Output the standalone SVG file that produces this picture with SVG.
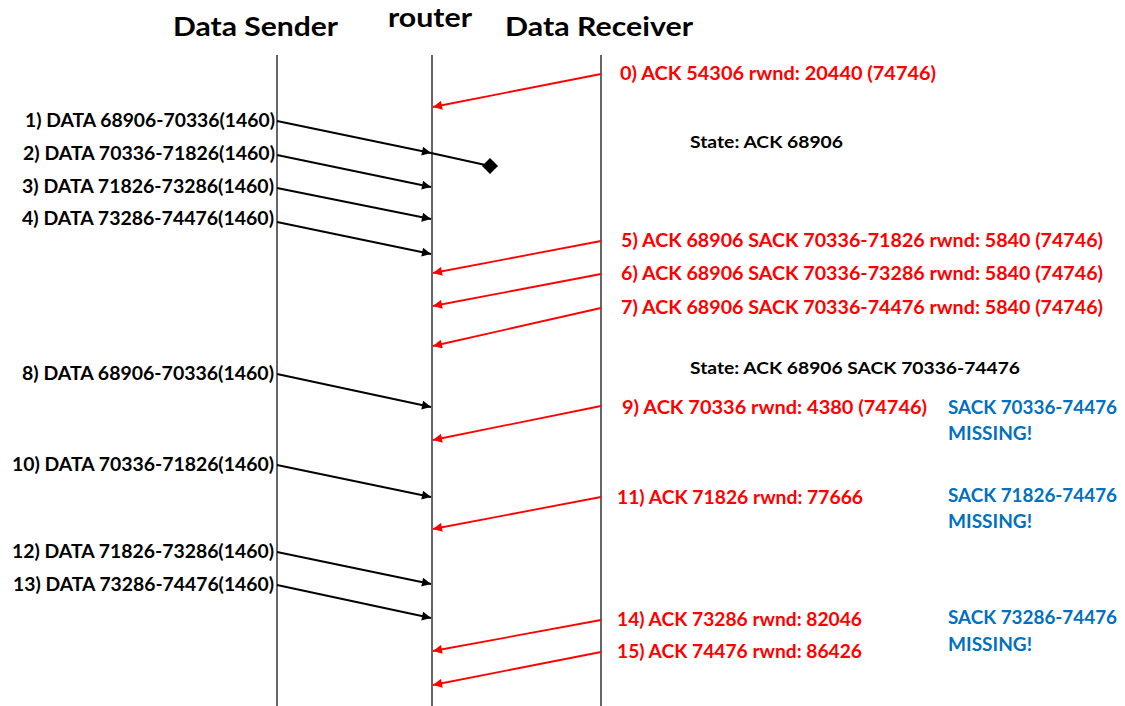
<svg xmlns="http://www.w3.org/2000/svg" width="1125" height="706" viewBox="0 0 1125 706">
<style>
text{font-family:Lato,"Open Sans","Liberation Sans",sans-serif;font-weight:bold}
.h{font-size:27px;fill:#000}
.l{font-size:18px;fill:#000;text-anchor:end}
.r{font-size:18px;fill:#FF0000}
.s{font-size:17px;fill:#000}
.b{font-size:18px;fill:#0070C0}
.life{stroke:#000;stroke-width:1.2}
.blk{stroke:#000;stroke-width:1.8;fill:none}
.red{stroke:#FF0000;stroke-width:1.8;fill:none}
</style>
<defs>
<marker id="ab" viewBox="0 0 10 10" refX="10" refY="5" markerWidth="11" markerHeight="9" markerUnits="userSpaceOnUse" orient="auto"><path d="M0,0L10,5L0,10z" fill="#000"/></marker>
<marker id="ar" viewBox="0 0 10 10" refX="10" refY="5" markerWidth="11" markerHeight="9" markerUnits="userSpaceOnUse" orient="auto"><path d="M0,0L10,5L0,10z" fill="#FF0000"/></marker>
</defs>
<rect width="1125" height="706" fill="#fff"/>
<g id="headers">
<text class="h" x="173" y="36" textLength="165" lengthAdjust="spacingAndGlyphs">Data Sender</text>
<text class="h" x="388" y="27" textLength="84" lengthAdjust="spacingAndGlyphs">router</text>
<text class="h" x="505" y="36" textLength="188" lengthAdjust="spacingAndGlyphs">Data Receiver</text>
</g>
<g id="lifelines">
<line class="life" x1="277" y1="55" x2="277" y2="706"/>
<line class="life" x1="432" y1="55" x2="432" y2="706"/>
<line class="life" x1="601" y1="55" x2="601" y2="706"/>
</g>
<g id="connectors">
<line class="red" x1="601" y1="74" x2="433" y2="107" marker-end="url(#ar)"/>
<line class="blk" x1="277" y1="121" x2="431" y2="153" marker-end="url(#ab)"/>
<line class="blk" x1="431" y1="153" x2="490" y2="166"/>
<path d="M490,158L498,166L490,174L482,166z" fill="#000"/>
<line class="blk" x1="277" y1="155" x2="431" y2="187" marker-end="url(#ab)"/>
<line class="blk" x1="277" y1="188" x2="431" y2="219" marker-end="url(#ab)"/>
<line class="blk" x1="277" y1="222" x2="431" y2="254" marker-end="url(#ab)"/>
<line class="red" x1="601" y1="241" x2="433" y2="273" marker-end="url(#ar)"/>
<line class="red" x1="601" y1="274" x2="433" y2="306" marker-end="url(#ar)"/>
<line class="red" x1="601" y1="308" x2="433" y2="346" marker-end="url(#ar)"/>
<line class="blk" x1="277" y1="374" x2="431" y2="407" marker-end="url(#ab)"/>
<line class="red" x1="601" y1="406" x2="433" y2="440" marker-end="url(#ar)"/>
<line class="blk" x1="277" y1="465" x2="431" y2="497" marker-end="url(#ab)"/>
<line class="red" x1="601" y1="497" x2="433" y2="529" marker-end="url(#ar)"/>
<line class="blk" x1="277" y1="552" x2="431" y2="584" marker-end="url(#ab)"/>
<line class="blk" x1="277" y1="585" x2="431" y2="618" marker-end="url(#ab)"/>
<line class="red" x1="601" y1="620" x2="433" y2="651" marker-end="url(#ar)"/>
<line class="red" x1="601" y1="652" x2="433" y2="685" marker-end="url(#ar)"/>
</g>
<g id="sender-labels">
<text class="l" x="275" y="127" textLength="250" lengthAdjust="spacingAndGlyphs">1) DATA 68906-70336(1460)</text>
<text class="l" x="275" y="160" textLength="252" lengthAdjust="spacingAndGlyphs">2) DATA 70336-71826(1460)</text>
<text class="l" x="274" y="193" textLength="252" lengthAdjust="spacingAndGlyphs">3) DATA 71826-73286(1460)</text>
<text class="l" x="274" y="225" textLength="252" lengthAdjust="spacingAndGlyphs">4) DATA 73286-74476(1460)</text>
<text class="l" x="274" y="380" textLength="252" lengthAdjust="spacingAndGlyphs">8) DATA 68906-70336(1460)</text>
<text class="l" x="274" y="471" textLength="262" lengthAdjust="spacingAndGlyphs">10) DATA 70336-71826(1460)</text>
<text class="l" x="274" y="558" textLength="262" lengthAdjust="spacingAndGlyphs">12) DATA 71826-73286(1460)</text>
<text class="l" x="274" y="591" textLength="261" lengthAdjust="spacingAndGlyphs">13) DATA 73286-74476(1460)</text>
</g>
<g id="receiver-labels">
<text class="r" x="620" y="80" textLength="316" lengthAdjust="spacingAndGlyphs">0) ACK 54306 rwnd: 20440 (74746)</text>
<text class="s" x="690" y="148" textLength="153" lengthAdjust="spacingAndGlyphs">State: ACK 68906</text>
<text class="r" x="621" y="247" textLength="482" lengthAdjust="spacingAndGlyphs">5) ACK 68906 SACK 70336-71826 rwnd: 5840 (74746)</text>
<text class="r" x="621" y="280" textLength="482" lengthAdjust="spacingAndGlyphs">6) ACK 68906 SACK 70336-73286 rwnd: 5840 (74746)</text>
<text class="r" x="621" y="314" textLength="482" lengthAdjust="spacingAndGlyphs">7) ACK 68906 SACK 70336-74476 rwnd: 5840 (74746)</text>
<text class="s" x="690" y="374" textLength="330" lengthAdjust="spacingAndGlyphs">State: ACK 68906 SACK 70336-74476</text>
<text class="r" x="622" y="414" textLength="305" lengthAdjust="spacingAndGlyphs">9) ACK 70336 rwnd: 4380 (74746)</text>
<text class="r" x="617" y="504" textLength="246" lengthAdjust="spacingAndGlyphs">11) ACK 71826 rwnd: 77666</text>
<text class="r" x="617" y="626" textLength="245" lengthAdjust="spacingAndGlyphs">14) ACK 73286 rwnd: 82046</text>
<text class="r" x="617" y="658" textLength="245" lengthAdjust="spacingAndGlyphs">15) ACK 74476 rwnd: 86426</text>
</g>
<g id="notes">
<text class="b" x="948" y="414" textLength="169" lengthAdjust="spacingAndGlyphs">SACK 70336-74476</text>
<text class="b" x="948" y="440" textLength="84" lengthAdjust="spacingAndGlyphs">MISSING!</text>
<text class="b" x="948" y="502" textLength="169" lengthAdjust="spacingAndGlyphs">SACK 71826-74476</text>
<text class="b" x="948" y="528" textLength="84" lengthAdjust="spacingAndGlyphs">MISSING!</text>
<text class="b" x="948" y="624" textLength="169" lengthAdjust="spacingAndGlyphs">SACK 73286-74476</text>
<text class="b" x="948" y="651" textLength="84" lengthAdjust="spacingAndGlyphs">MISSING!</text>
</g>
</svg>
